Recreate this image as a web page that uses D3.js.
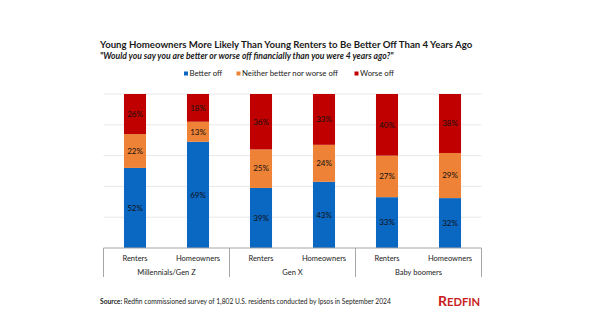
<!DOCTYPE html>
<html><head><meta charset="utf-8">
<script src="https://cdn.jsdelivr.net/npm/d3@7"></script>
<style>body{margin:0;background:#fff;} text{font-family:Lato, "Open Sans", sans-serif;}</style>
</head><body>
<svg id="chart" width="600" height="334"></svg>
<script>
const groups = ["Millennials/Gen Z", "Gen X", "Baby boomers"];
const categories = ["Renters", "Homeowners"];
const betterOff = [52, 69, 39, 43, 33, 32.4];
const neither = [22, 13, 25, 24, 27, 29.3];
const worseOff = [26, 18, 36, 33, 40, 38.3];
const seriesNames = ["Better off", "Neither better nor worse off", "Worse off"];
const colors = ["#0a67c2", "#ee8236", "#c00000"];
const yTicks = [0, 20, 40, 60, 80, 100];

const svg = d3.select("#chart");
const margin = {left: 103.5, right: 600 - 481.5, top: 94, bottom: 334 - 248};
const rows = [];
groups.forEach((g, gi) => categories.forEach((c, ci) => {
  const i = gi * categories.length + ci;
  rows.push({key: g + "|" + c, group: g, cat: c, "Better off": betterOff[i], "Neither better nor worse off": neither[i], "Worse off": worseOff[i]});
}));

const x = d3.scaleBand().domain(rows.map(d => d.key)).range([margin.left, 600 - margin.right]).paddingInner(0.65).paddingOuter(0.325);
const y = d3.scaleLinear().domain([0, 100]).range([334 - margin.bottom, margin.top]);

// gridlines
svg.append("g").selectAll("line").data(yTicks.slice(1)).join("line")
  .attr("x1", margin.left).attr("x2", 600 - margin.right)
  .attr("y1", d => y(d)).attr("y2", d => y(d))
  .attr("stroke", "#e8e8e8").attr("stroke-width", 1);

const stack = d3.stack().keys(seriesNames)(rows);
const layer = svg.append("g").selectAll("g").data(stack).join("g")
  .attr("fill", (d, i) => colors[i]);
layer.selectAll("rect").data(d => d).join("rect")
  .attr("x", d => x(d.data.key)).attr("width", x.bandwidth())
  .attr("y", d => y(d[1])).attr("height", d => y(d[0]) - y(d[1]));

layer.selectAll("text").data(d => d).join("text")
  .attr("x", d => x(d.data.key) + x.bandwidth() / 2)
  .attr("y", d => (y(d[0]) + y(d[1])) / 2)
  .attr("dy", "0.35em").attr("text-anchor", "middle")
  .attr("font-size", 8).attr("fill", "#111")
  .text(d => Math.round(d[1] - d[0]) + "%");

// category axis box
const axisY = y(0);
const g0 = svg.append("g").attr("stroke", "#a6a6a6").attr("stroke-width", 1);
g0.append("line").attr("x1", margin.left).attr("x2", 600 - margin.right).attr("y1", axisY).attr("y2", axisY);
const step = x.step();
const bounds = [0, 2, 4, 6].map(k => margin.left + k * step);
bounds.forEach(b => g0.append("line").attr("x1", b).attr("x2", b).attr("y1", axisY).attr("y2", axisY + 29));

svg.append("g").selectAll("text").data(rows).join("text")
  .attr("x", d => x(d.key) + x.bandwidth() / 2).attr("y", axisY + 13)
  .attr("text-anchor", "middle").attr("font-size", 7.5).attr("fill", "#222")
  .text(d => d.cat);
svg.append("g").selectAll("text").data(groups).join("text")
  .attr("x", (d, i) => (bounds[i] + bounds[i + 1]) / 2).attr("y", axisY + 27)
  .attr("text-anchor", "middle").attr("font-size", 7.5).attr("fill", "#222")
  .text(d => d);

// title
svg.append("text").attr("x", 100).attr("y", 47.5).attr("font-size", 9.65).attr("font-weight", 700).attr("fill", "#1a1a1a")
  .text("Young Homeowners More Likely Than Young Renters to Be Better Off Than 4 Years Ago");
svg.append("text").attr("x", 100).attr("y", 58.5).attr("font-size", 8.6).attr("font-weight", 700).attr("font-style", "italic").attr("fill", "#1a1a1a")
  .text("\"Would you say you are better or worse off financially than you were 4 years ago?\"");

// legend
const legX = [184, 236.5, 354.5];
const leg = svg.append("g").selectAll("g").data(seriesNames).join("g")
  .attr("transform", (d, i) => `translate(${legX[i]},73.5)`);
leg.append("rect").attr("x", 0).attr("y", -2).attr("width", 4).attr("height", 4).attr("fill", (d, i) => colors[i]);
leg.append("text").attr("x", 5.5).attr("dy", "0.35em").attr("font-size", 7.8).attr("fill", "#222").text(d => d);

// source
const src = svg.append("text").attr("x", 100).attr("y", 304).attr("font-size", 6.7).attr("fill", "#222");
src.append("tspan").attr("font-weight", 700).text("Source: ");
src.append("tspan").text("Redfin commissioned survey of 1,802 U.S. residents conducted by Ipsos in September 2024");

// logo
const logo = svg.append("text").attr("x", 438).attr("y", 306).attr("fill", "#c82021").attr("font-weight", 700);
logo.append("tspan").attr("font-size", 14).text("R");
logo.append("tspan").attr("font-size", 11.2).text("EDFIN");
</script>
</body></html>
